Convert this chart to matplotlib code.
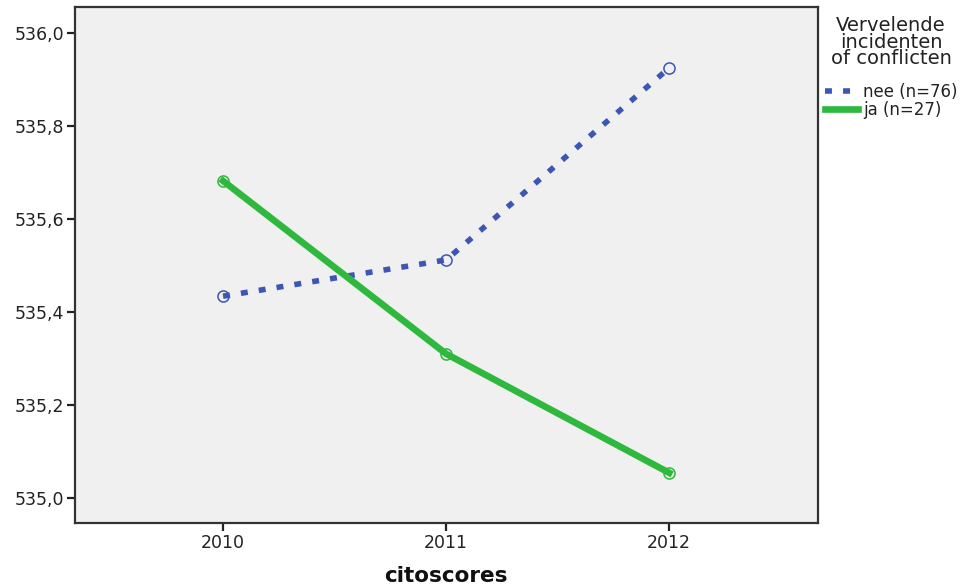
import matplotlib
matplotlib.use("Agg")
import matplotlib.pyplot as plt
from matplotlib.lines import Line2D
from matplotlib.ticker import FuncFormatter

years = [2010, 2011, 2012]
nee_vals = [535.434, 535.512, 535.925]
ja_vals = [535.682, 535.310, 535.054]
nee_label = "nee (n=76)"
ja_label = "ja (n=27)"
legend_title = "Vervelende\nincidenten\nof conflicten"

blue = "#3c56b5"
green = "#2fb83e"
nee_style = (0, (1.25, 2.0))

fig = plt.figure(figsize=(9.66, 5.88), dpi=100)
ax = fig.add_axes([0.0776, 0.1105, 0.847 - 0.0776, 0.988 - 0.1105])
ax.set_facecolor("#f0f0f0")

ax.plot(years, nee_vals, color=blue, lw=4.0, linestyle=nee_style,
        dash_capstyle='butt', marker='o', ms=8, mfc='none', mec=blue, mew=1.1)
ax.plot(years, ja_vals, color=green, lw=4.8, marker='o', ms=8, mfc='none',
        mec=green, mew=1.1)

ax.set_xlim(2009.336, 2012.668)
ax.set_ylim(534.946, 536.056)
ax.set_xticks(years)
ax.set_yticks([535.0, 535.2, 535.4, 535.6, 535.8, 536.0])
ax.yaxis.set_major_formatter(FuncFormatter(lambda v, p: f"{v:.1f}".replace(".", ",")))
ax.tick_params(labelsize=12.5, length=6, width=1.6, colors="#222222", pad=2)
for s in ax.spines.values():
    s.set_linewidth(1.6)
    s.set_color("#333333")

# as-titel onderaan, net binnen de figuur
fig.text(446 / 966, 2 / 588, "citoscores", ha='center', va='bottom',
         fontsize=15.5, fontweight='bold', color="#111111")

# legendtitel apart, gecentreerd boven de items
fig.text(891 / 966, 1 - 16 / 588, legend_title, ha='center', va='top',
         fontsize=14, linespacing=0.85, multialignment='center', color="#222222")

handles = [Line2D([], [], color=blue, lw=4.0, linestyle=nee_style, dash_capstyle='butt'),
           Line2D([], [], color=green, lw=4.8)]
leg = fig.legend(handles, [nee_label, ja_label],
                 loc='upper left', bbox_to_anchor=(825 / 966, 1 - 83 / 588),
                 frameon=False, fontsize=12, handlelength=2.0,
                 handletextpad=0.3, borderaxespad=0, borderpad=0,
                 labelspacing=0.0)
for t in leg.get_texts():
    t.set_color("#222222")

fig.savefig("out.png", dpi=100)
